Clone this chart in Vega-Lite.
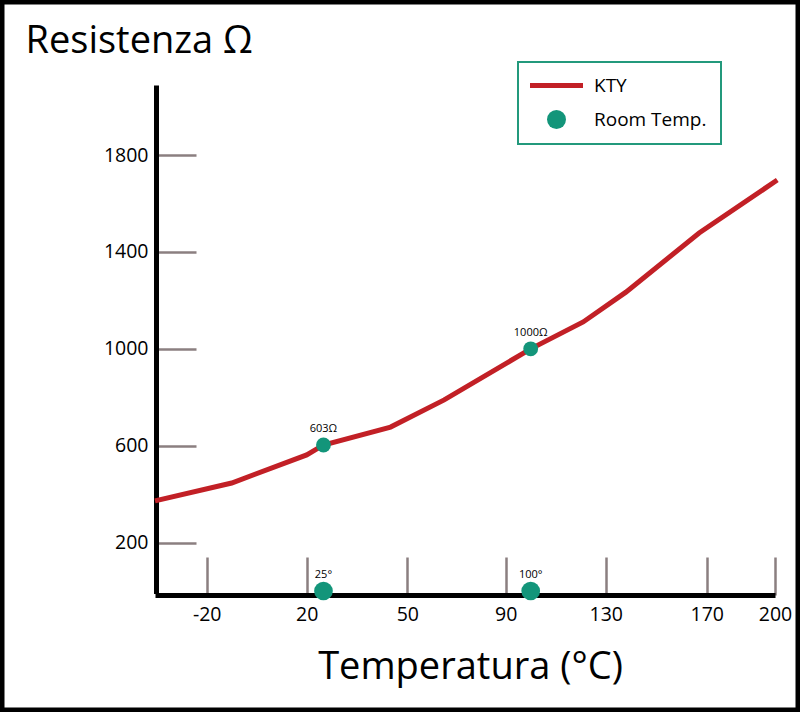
{
  "$schema": "https://vega.github.io/schema/vega-lite/v6.json",
  "width": 800,
  "height": 712,
  "autosize": {"type": "none"},
  "padding": 0,
  "background": "white",
  "config": {
    "view": {"stroke": "black", "strokeWidth": 9},
    "font": "Open Sans",
    "legend": {
      "orient": "none",
      "legendX": 518,
      "legendY": 62,
      "strokeColor": "#23997c",
      "strokeWidth": 2,
      "padding": 14,
      "labelFont": "Open Sans",
      "labelFontSize": 19,
      "labelColor": "black",
      "symbolSize": 330,
      "symbolOffset": 15,
      "labelOffset": 28,
      "rowPadding": 14
    }
  },
  "datasets": {
    "curve": [
      {"t": -40, "r": 372, "series": "KTY"},
      {"t": -10, "r": 446, "series": "KTY"},
      {"t": 20, "r": 562, "series": "KTY"},
      {"t": 25, "r": 603, "series": "KTY"},
      {"t": 45, "r": 677, "series": "KTY"},
      {"t": 65, "r": 789, "series": "KTY"},
      {"t": 100, "r": 1000, "series": "KTY"},
      {"t": 121, "r": 1111, "series": "KTY"},
      {"t": 138, "r": 1234, "series": "KTY"},
      {"t": 167, "r": 1478, "series": "KTY"},
      {"t": 201, "r": 1697, "series": "KTY"}
    ],
    "rt": [
      {"t": 25, "r": 603, "label": "603Ω", "series": "Room Temp."},
      {"t": 100, "r": 1000, "label": "1000Ω", "series": "Room Temp."},
      {"t": 25, "r": 0, "label": "25°", "series": "Room Temp."},
      {"t": 100, "r": 0, "label": "100°", "series": "Room Temp."}
    ]
  },
  "encoding": {
    "x": {
      "field": "t",
      "type": "quantitative",
      "scale": {
        "domain": [-40, -20, 20, 50, 90, 130, 170, 200],
        "range": [155, 206.7, 306.7, 407.3, 505.7, 605.7, 706.7, 775],
        "nice": false,
        "zero": false
      },
      "axis": {
        "values": [-20, 20, 50, 90, 130, 170, 200],
        "labelExpr": "'' + datum.value",
        "offset": -117,
        "grid": false,
        "domainColor": "black",
        "domainWidth": 5,
        "tickColor": "#8b7f80",
        "tickWidth": 2.5,
        "tickSize": -38,
        "labelPadding": 48.5,
        "labelFont": "Open Sans",
        "labelFontSize": 19.5,
        "labelColor": "black",
        "labelFlush": false,
        "labelOverlap": false,
        "title": "Temperatura (°C)",
        "titleFont": "Open Sans",
        "titleFontSize": 38,
        "titleFontWeight": "normal",
        "titleColor": "black",
        "titleX": 470,
        "titleY": 83,
        "titleAlign": "center",
        "titleBaseline": "alphabetic"
      }
    },
    "y": {
      "field": "r",
      "type": "quantitative",
      "scale": {"domain": [0, 2079], "range": [591, 87.5], "nice": false, "zero": false},
      "axis": {
        "values": [200, 600, 1000, 1400, 1800],
        "labelExpr": "'' + datum.value",
        "offset": -156,
        "grid": false,
        "domainColor": "black",
        "domainWidth": 5,
        "domainCap": "square",
        "tickColor": "#8b7f80",
        "tickWidth": 2.5,
        "tickSize": -40,
        "labelPadding": 48,
        "labelFont": "Open Sans",
        "labelFontSize": 19.5,
        "labelColor": "black",
        "labelFlush": false,
        "labelOverlap": false,
        "title": "Resistenza Ω",
        "titleFont": "Open Sans",
        "titleFontSize": 38,
        "titleFontWeight": "normal",
        "titleColor": "black",
        "titleAngle": 0,
        "titleX": -131,
        "titleY": 52,
        "titleAlign": "left",
        "titleBaseline": "alphabetic"
      }
    }
  },
  "layer": [
    {
      "data": {"name": "curve"},
      "mark": {"type": "line", "strokeWidth": 5},
      "encoding": {
        "color": {
          "field": "series",
          "type": "nominal",
          "scale": {"domain": ["KTY", "Room Temp."], "range": ["#c22026", "#13957a"]},
          "legend": {
            "title": null,
            "encode": {
              "symbols": {
                "update": {
                  "shape": {"signal": "datum.value === 'KTY' ? 'M-1,0H1' : 'circle'"},
                  "fill": {"signal": "datum.value === 'KTY' ? 'transparent' : '#13957a'"},
                  "stroke": {"signal": "datum.value === 'KTY' ? '#c22026' : '#13957a'"},
                  "strokeWidth": {"signal": "datum.value === 'KTY' ? 5 : 0"},
                  "size": {"signal": "datum.value === 'KTY' ? 2809 : 360"},
                  "opacity": {"value": 1}
                }
              }
            }
          }
        }
      }
    },
    {
      "data": {"name": "rt"},
      "transform": [{"filter": "datum.r > 0"}],
      "mark": {"type": "point", "filled": true, "size": 220, "opacity": 1},
      "encoding": {
        "color": {"field": "series", "type": "nominal"}
      }
    },
    {
      "data": {"name": "rt"},
      "transform": [{"filter": "datum.r == 0"}],
      "mark": {"type": "point", "filled": true, "size": 350, "opacity": 1},
      "encoding": {
        "color": {"field": "series", "type": "nominal"}
      }
    },
    {
      "data": {"name": "rt"},
      "mark": {"type": "text", "dy": -13, "baseline": "alphabetic", "fontSize": 11, "font": "Open Sans", "color": "black"},
      "encoding": {
        "text": {"field": "label"}
      }
    }
  ]
}
